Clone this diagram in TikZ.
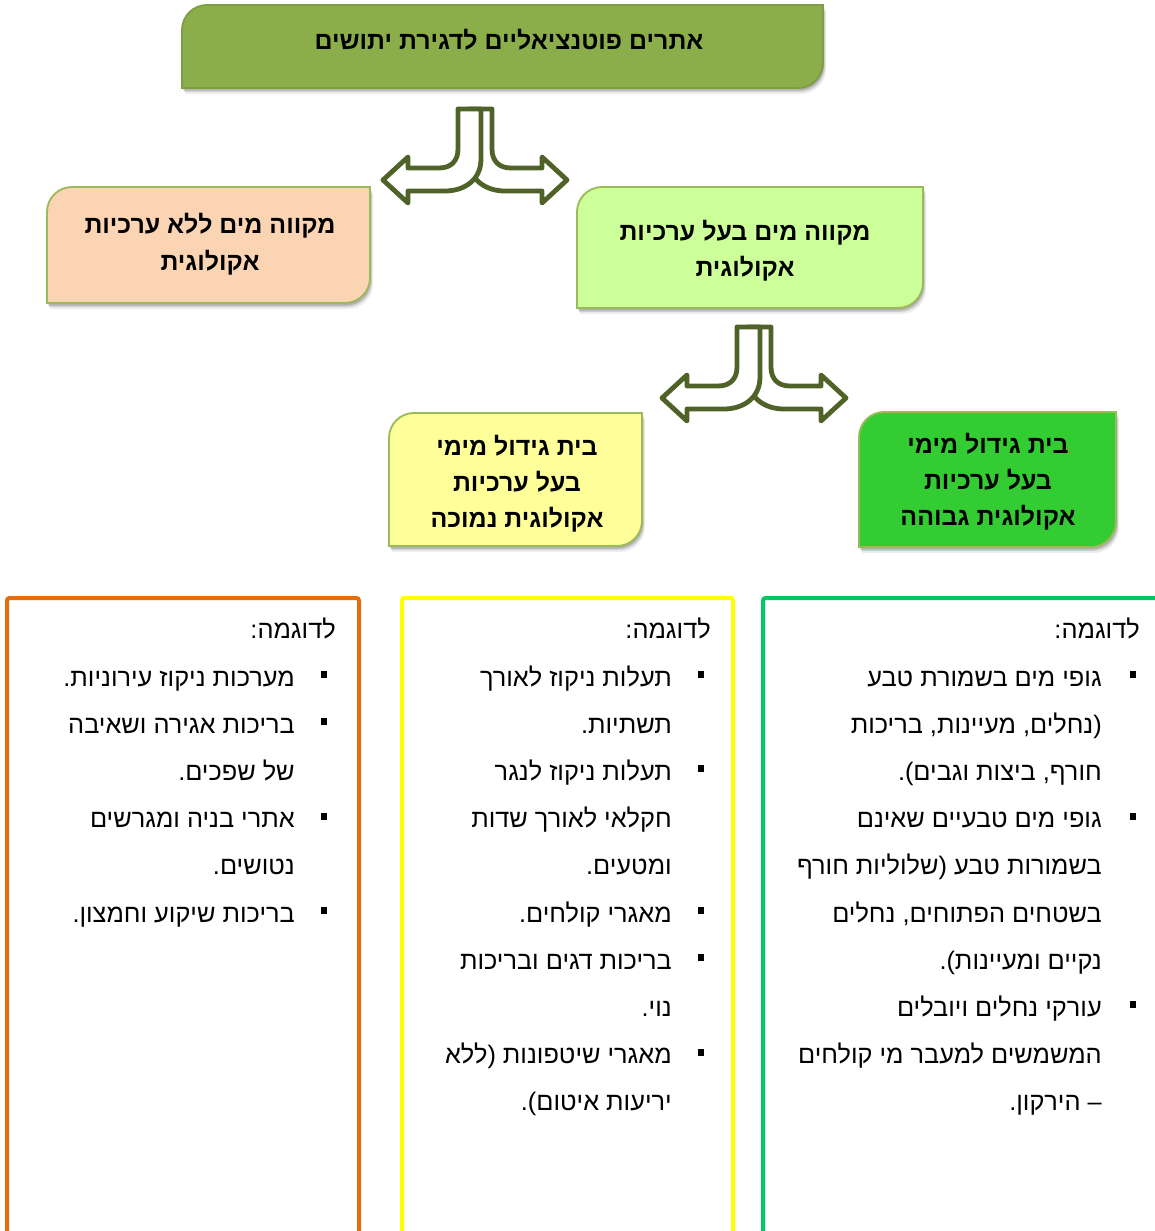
\documentclass[tikz,border=0pt]{standalone}
\usepackage{fontspec}
\newfontfamily\heb[Script=Hebrew]{Liberation Sans}
\TeXXeTstate=1
\definecolor{titlefill}{RGB}{139,174,75}
\definecolor{titledraw}{RGB}{125,158,66}
\definecolor{peach}{RGB}{251,212,180}
\definecolor{lgreen}{RGB}{204,255,153}
\definecolor{lyellow}{RGB}{255,255,153}
\definecolor{bgreen}{RGB}{51,204,51}
\definecolor{bordg}{RGB}{155,187,89}
\definecolor{arrowc}{RGB}{79,98,40}
\definecolor{corange}{RGB}{228,108,10}
\definecolor{cyellow}{RGB}{255,255,0}
\definecolor{cgreen}{RGB}{0,200,100}
\newcommand\boxpath[4]{(#1,#4) -- (#1,#2+25) arc[start angle=180,end angle=270,radius=25] -- (#3,#2) -- (#3,#4-25) arc[start angle=0,end angle=90,radius=25] -- cycle}
\newcommand\mybox[6]{%
  \fill[black,opacity=0.07,shift={(3,6)}] \boxpath{#1}{#2}{#3}{#4};
  \fill[black,opacity=0.12,shift={(2,4)}] \boxpath{#1}{#2}{#3}{#4};
  \fill[black,opacity=0.15,shift={(1,2.5)}] \boxpath{#1}{#2}{#3}{#4};
  \filldraw[fill=#5,draw=#6,line width=1.4pt] \boxpath{#1}{#2}{#3}{#4};
}
\newcommand\onearrow{(-6,0) -- (17,0) -- (17,40) .. controls (17,52) and (24,59) .. (36,59) -- (67,59) -- (67,48) -- (92,71) -- (67,94) -- (67,82) -- (30,82) .. controls (12,82) and (-6,72) .. (-6,50) -- cycle}
\newcommand\splitarrow[2]{%
  \begin{scope}[shift={(#1,#2)}]
    \filldraw[arrline] \onearrow;
    \begin{scope}[xscale=-1]
      \filldraw[arrline] \onearrow;
    \end{scope}
  \end{scope}
}
\tikzset{
  arrline/.style={draw=arrowc,fill=white,line width=3.6pt,line join=round},
  txt/.style={font=\heb\fontsize{19}{22}\selectfont,inner sep=0pt,anchor=base east},
  btxt/.style={font=\heb\bfseries\fontsize{18.7}{22}\selectfont,inner sep=0pt,anchor=base},
  bul/.style={fill=black,inner sep=0pt,minimum size=5.2pt,draw=none,rectangle},
  colline/.style={line width=3pt,rounded corners=2pt},
}
\begin{document}
\begin{tikzpicture}[x=0.75pt,y=-0.75pt]
\useasboundingbox (0,0) rectangle (1154,1231);
\fill[white] (0,0) rectangle (1154,1231);

% boxes
\mybox{182}{5}{823}{88}{titlefill}{titledraw}
\mybox{47}{187}{370}{303}{peach}{bordg}
\mybox{577}{187}{923}{308}{lgreen}{bordg}
\mybox{389}{413}{642}{546}{lyellow}{bordg}
\mybox{859}{412}{1116}{547}{bgreen}{bordg}

\node[btxt] (title) at (509,50) {\beginR אתרים פוטנציאליים לדגירת יתושים\endR};
\node[btxt] (n1a) at (210,233) {\beginR מקווה מים ללא ערכיות\endR};
\node[btxt] (n1b) at (210,270) {\beginR אקולוגית\endR};
\node[btxt] (e1a) at (745,240) {\beginR מקווה מים בעל ערכיות\endR};
\node[btxt] (e1b) at (745,276) {\beginR אקולוגית\endR};
\node[btxt] (l1a) at (517,455) {\beginR בית גידול מימי\endR};
\node[btxt] (l1b) at (517,491) {\beginR בעל ערכיות\endR};
\node[btxt] (l1c) at (517,527) {\beginR אקולוגית נמוכה\endR};
\node[btxt] (h1a) at (988,453) {\beginR בית גידול מימי\endR};
\node[btxt] (h1b) at (988,489) {\beginR בעל ערכיות\endR};
\node[btxt] (h1c) at (988,525) {\beginR אקולוגית גבוהה\endR};

% split arrows
\splitarrow{475}{109}
\splitarrow{754}{327}

% columns
\draw[colline,corange] (7,1260) -- (7,598) -- (359,598) -- (359,1260);
\draw[colline,cyellow] (402,1260) -- (402,598) -- (733,598) -- (733,1260);
\draw[colline,cgreen] (763,1260) -- (763,598) -- (1180,598);

% green column
\node[txt] (gh) at (1140,638) {\beginR לדוגמה:\endR};
\node[txt] (g1) at (1102,686) {\beginR גופי מים בשמורת טבע\endR};
\node[txt] (g2) at (1102,733.2) {\beginR (נחלים, מעיינות, בריכות\endR};
\node[txt] (g3) at (1102,780.4) {\beginR חורף, ביצות וגבים).\endR};
\node[txt] (g4) at (1102,827.6) {\beginR גופי מים טבעיים שאינם\endR};
\node[txt] (g5) at (1102,874.8) {\beginR בשמורות טבע (שלוליות חורף\endR};
\node[txt] (g6) at (1102,922) {\beginR בשטחים הפתוחים, נחלים\endR};
\node[txt] (g7) at (1102,969.2) {\beginR נקיים ומעיינות).\endR};
\node[txt] (g8) at (1102,1016.4) {\beginR עורקי נחלים ויובלים\endR};
\node[txt] (g9) at (1102,1063.6) {\beginR המשמשים למעבר מי קולחים\endR};
\node[txt] (g10) at (1102,1110.8) {\beginR – הירקון.\endR};
\node[bul] (gb1) at (1133,674.5) {};
\node[bul] (gb2) at (1133,816.1) {};
\node[bul] (gb3) at (1133,1004.9) {};

% yellow column
\node[txt] (yh) at (711,638) {\beginR לדוגמה:\endR};
\node[txt] (y1) at (672,686) {\beginR תעלות ניקוז לאורך\endR};
\node[txt] (y2) at (672,733.2) {\beginR תשתיות.\endR};
\node[txt] (y3) at (672,780.4) {\beginR תעלות ניקוז לנגר\endR};
\node[txt] (y4) at (672,827.6) {\beginR חקלאי לאורך שדות\endR};
\node[txt] (y5) at (672,874.8) {\beginR ומטעים.\endR};
\node[txt] (y6) at (672,922) {\beginR מאגרי קולחים.\endR};
\node[txt] (y7) at (672,969.2) {\beginR בריכות דגים ובריכות\endR};
\node[txt] (y8) at (672,1016.4) {\beginR נוי.\endR};
\node[txt] (y9) at (672,1063.6) {\beginR מאגרי שיטפונות (ללא\endR};
\node[txt] (y10) at (672,1110.8) {\beginR יריעות איטום).\endR};
\node[bul] (yb1) at (701,674.5) {};
\node[bul] (yb2) at (701,768.9) {};
\node[bul] (yb3) at (701,910.5) {};
\node[bul] (yb4) at (701,957.7) {};
\node[bul] (yb5) at (701,1052.1) {};

% orange column
\node[txt] (oh) at (336,638) {\beginR לדוגמה:\endR};
\node[txt] (o1) at (295,686) {\beginR מערכות ניקוז עירוניות.\endR};
\node[txt] (o2) at (295,733.2) {\beginR בריכות אגירה ושאיבה\endR};
\node[txt] (o3) at (295,780.4) {\beginR של שפכים.\endR};
\node[txt] (o4) at (295,827.6) {\beginR אתרי בניה ומגרשים\endR};
\node[txt] (o5) at (295,874.8) {\beginR נטושים.\endR};
\node[txt] (o6) at (295,922) {\beginR בריכות שיקוע וחמצון.\endR};
\node[bul] (ob1) at (324,674.5) {};
\node[bul] (ob2) at (324,721.7) {};
\node[bul] (ob3) at (324,816.1) {};
\node[bul] (ob4) at (324,910.5) {};
\end{tikzpicture}
\end{document}
